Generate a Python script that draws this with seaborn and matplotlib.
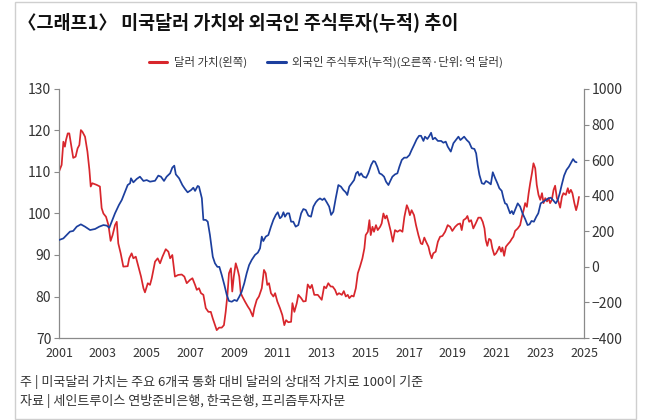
import matplotlib
matplotlib.use("Agg")
import matplotlib.pyplot as plt
from matplotlib.patches import Rectangle
from matplotlib.lines import Line2D
import seaborn as sns
import pandas as pd

# ---------------- data ----------------
dollar_years = [2001.0, 2001.12, 2001.2, 2001.27, 2001.32, 2001.4, 2001.47, 2001.58, 2001.65, 2001.76, 2001.85, 2001.93,
    2002.0, 2002.07, 2002.19, 2002.3, 2002.39, 2002.45, 2002.52, 2002.72, 2002.87, 2002.95, 2003.03, 2003.15, 2003.26,
    2003.36, 2003.45, 2003.56, 2003.64, 2003.71, 2003.82, 2003.94, 2004.14, 2004.21, 2004.32, 2004.4, 2004.51, 2004.63,
    2004.75, 2004.86, 2004.93, 2005.06, 2005.16, 2005.24, 2005.39, 2005.51, 2005.62, 2005.73, 2005.88, 2006.0, 2006.08,
    2006.18, 2006.3, 2006.45, 2006.61, 2006.73, 2006.84, 2006.99, 2007.1, 2007.22, 2007.3, 2007.4, 2007.49, 2007.6,
    2007.71, 2007.83, 2007.94, 2008.03, 2008.13, 2008.21, 2008.32, 2008.44, 2008.54, 2008.62, 2008.7, 2008.77, 2008.86,
    2008.92, 2008.99, 2009.08, 2009.17, 2009.24, 2009.31, 2009.38, 2009.5, 2009.63, 2009.73, 2009.86, 2009.93, 2010.04,
    2010.14, 2010.27, 2010.37, 2010.45, 2010.52, 2010.6, 2010.69, 2010.8, 2010.88, 2010.98, 2011.1, 2011.21, 2011.3,
    2011.38, 2011.48, 2011.61, 2011.67, 2011.76, 2011.87, 2011.94, 2012.07, 2012.17, 2012.28, 2012.37, 2012.48, 2012.56,
    2012.67, 2012.83, 2013.01, 2013.12, 2013.21, 2013.31, 2013.42, 2013.51, 2013.62, 2013.71, 2013.8, 2013.93, 2014.02,
    2014.11, 2014.2, 2014.27, 2014.38, 2014.47, 2014.57, 2014.66, 2014.76, 2014.87, 2014.96, 2015.02, 2015.12, 2015.19,
    2015.25, 2015.33, 2015.4, 2015.49, 2015.57, 2015.68, 2015.75, 2015.83, 2015.91, 2015.98, 2016.06, 2016.17, 2016.26,
    2016.36, 2016.47, 2016.59, 2016.7, 2016.79, 2016.9, 2016.97, 2017.04, 2017.12, 2017.23, 2017.32, 2017.43, 2017.54,
    2017.61, 2017.7, 2017.78, 2017.89, 2017.96, 2018.04, 2018.11, 2018.22, 2018.32, 2018.42, 2018.53, 2018.65, 2018.77,
    2018.88, 2018.98, 2019.11, 2019.23, 2019.34, 2019.41, 2019.49, 2019.6, 2019.67, 2019.75, 2019.84, 2019.94, 2020.05,
    2020.17, 2020.28, 2020.37, 2020.45, 2020.51, 2020.58, 2020.66, 2020.74, 2020.81, 2020.9, 2020.98, 2021.06, 2021.13,
    2021.21, 2021.27, 2021.35, 2021.43, 2021.52, 2021.62, 2021.7, 2021.77, 2021.85, 2021.97, 2022.08, 2022.16, 2022.24,
    2022.31, 2022.39, 2022.47, 2022.54, 2022.62, 2022.69, 2022.77, 2022.84, 2022.92, 2023.0, 2023.08, 2023.15, 2023.23,
    2023.31, 2023.38, 2023.45, 2023.53, 2023.61, 2023.68, 2023.76, 2023.83, 2023.91, 2023.99, 2024.06, 2024.17, 2024.26,
    2024.32, 2024.4, 2024.47, 2024.56, 2024.64, 2024.71, 2024.77]
dollar_values = [110.1, 111.7, 117.3, 116.1, 117.7, 119.3, 119.3, 115.7, 113.4, 113.7, 115.7, 116.5,
    120.1, 119.7, 118.5, 114.9, 110.5, 106.5, 107.3, 106.9, 106.5, 101.3, 100.0, 99.2, 97.2,
    93.4, 94.8, 97.2, 98.0, 92.8, 90.4, 87.2, 87.3, 89.2, 90.4, 89.2, 89.6, 87.2,
    84.8, 82.0, 81.0, 83.2, 82.8, 84.4, 88.4, 89.2, 88.0, 89.6, 91.4, 90.8, 89.2,
    90.0, 84.8, 85.2, 85.3, 84.8, 83.2, 84.0, 84.4, 82.8, 81.6, 82.0, 80.8, 80.4,
    77.2, 76.3, 76.3, 74.7, 73.1, 71.9, 72.5, 72.5, 73.1, 76.3, 80.4, 85.6, 86.8,
    81.2, 84.8, 88.0, 86.4, 84.8, 80.8, 80.0, 78.8, 77.6, 76.8, 75.2, 77.2, 79.2,
    80.0, 82.0, 86.4, 85.6, 82.8, 83.2, 80.8, 80.0, 80.8, 78.8, 77.2, 75.5, 73.1,
    74.3, 73.8, 73.9, 78.4, 76.3, 78.4, 80.4, 79.6, 78.8, 78.9, 82.9, 82.0, 82.8,
    80.4, 80.4, 79.2, 82.4, 82.0, 83.2, 82.4, 82.4, 81.6, 80.4, 80.8, 80.4, 81.3,
    80.0, 80.4, 79.6, 80.2, 80.0, 82.0, 85.6, 87.2, 89.2, 91.6, 94.8, 95.6, 98.4,
    94.8, 96.8, 95.6, 97.2, 96.0, 96.8, 97.6, 100.0, 98.8, 99.5, 98.0, 95.6, 93.2,
    96.0, 95.6, 96.0, 95.6, 99.2, 102.0, 101.1, 99.6, 100.8, 99.6, 97.2, 94.8, 92.8,
    92.6, 94.2, 93.2, 92.0, 90.4, 89.2, 90.4, 90.8, 93.2, 94.4, 94.6, 95.6, 97.2,
    96.8, 95.8, 96.8, 97.4, 97.6, 96.0, 98.4, 98.8, 99.4, 98.0, 98.4, 96.4, 97.6,
    99.0, 99.0, 98.0, 96.4, 93.6, 92.2, 93.9, 93.6, 91.6, 90.0, 90.4, 91.2, 92.0,
    90.8, 91.8, 89.8, 92.0, 92.6, 93.2, 93.9, 94.4, 95.8, 96.4, 97.2, 99.2, 100.8,
    102.5, 101.6, 104.9, 107.3, 109.7, 112.1, 110.9, 106.9, 104.5, 103.3, 104.9, 102.5, 103.7,
    102.9, 103.7, 102.5, 103.3, 105.7, 106.7, 103.7, 102.9, 101.4, 104.0, 104.9, 104.5, 106.1,
    104.9, 105.7, 104.9, 102.5, 100.8, 102.2, 104.0]

stock_years = [2001.0, 2001.2, 2001.35, 2001.5, 2001.65, 2001.81, 2002.0, 2002.19, 2002.42, 2002.65, 2002.84, 2003.03,
    2003.18, 2003.3, 2003.41, 2003.56, 2003.74, 2003.87, 2004.02, 2004.14, 2004.25, 2004.29, 2004.4, 2004.55, 2004.7,
    2004.86, 2005.01, 2005.16, 2005.39, 2005.54, 2005.66, 2005.8, 2005.92, 2006.08, 2006.18, 2006.27, 2006.34, 2006.49,
    2006.64, 2006.76, 2006.88, 2007.04, 2007.14, 2007.22, 2007.34, 2007.4, 2007.53, 2007.6, 2007.71, 2007.8, 2007.9,
    2008.03, 2008.13, 2008.24, 2008.33, 2008.44, 2008.56, 2008.67, 2008.77, 2008.9, 2009.02, 2009.13, 2009.24, 2009.35,
    2009.47, 2009.58, 2009.69, 2009.81, 2009.96, 2010.09, 2010.19, 2010.27, 2010.34, 2010.45, 2010.57, 2010.69, 2010.8,
    2010.91, 2011.0, 2011.1, 2011.18, 2011.26, 2011.33, 2011.43, 2011.52, 2011.61, 2011.71, 2011.82, 2011.94, 2012.07,
    2012.17, 2012.28, 2012.4, 2012.52, 2012.63, 2012.74, 2012.83, 2012.93, 2013.04, 2013.13, 2013.24, 2013.35, 2013.44,
    2013.54, 2013.65, 2013.77, 2013.89, 2014.0, 2014.11, 2014.18, 2014.27, 2014.38, 2014.49, 2014.58, 2014.66, 2014.73,
    2014.81, 2014.91, 2015.04, 2015.14, 2015.27, 2015.37, 2015.45, 2015.55, 2015.65, 2015.75, 2015.86, 2015.95, 2016.06,
    2016.13, 2016.24, 2016.36, 2016.47, 2016.56, 2016.67, 2016.78, 2016.9, 2017.02, 2017.12, 2017.23, 2017.35, 2017.46,
    2017.55, 2017.66, 2017.73, 2017.84, 2017.93, 2018.01, 2018.09, 2018.19, 2018.32, 2018.47, 2018.57, 2018.68, 2018.77,
    2018.91, 2019.03, 2019.14, 2019.26, 2019.35, 2019.44, 2019.52, 2019.64, 2019.75, 2019.87, 2019.99, 2020.07, 2020.14,
    2020.22, 2020.33, 2020.43, 2020.52, 2020.63, 2020.74, 2020.83, 2020.94, 2021.04, 2021.13, 2021.24, 2021.32, 2021.39,
    2021.47, 2021.54, 2021.62, 2021.7, 2021.77, 2021.85, 2021.97, 2022.08, 2022.19, 2022.31, 2022.42, 2022.51, 2022.6,
    2022.71, 2022.82, 2022.91, 2023.02, 2023.13, 2023.25, 2023.37, 2023.48, 2023.58, 2023.71, 2023.8, 2023.89, 2023.98,
    2024.09, 2024.2, 2024.31, 2024.42, 2024.5, 2024.59, 2024.66]
stock_values = [151, 160, 179, 198, 202, 226, 239, 226, 207, 213, 226, 235,
    232, 220, 254, 301, 348, 376, 423, 460, 470, 498, 475, 494, 507,
    483, 488, 479, 484, 513, 507, 483, 507, 526, 558, 569, 520, 498,
    460, 438, 419, 432, 445, 427, 455, 451, 386, 264, 264, 254, 179,
    57, 20, 0, 0, -46, -102, -158, -192, -196, -186, -192, -168, -140,
    -92, -36, 10, 39, 67, 80, 104, 170, 145, 170, 179, 226, 264,
    292, 307, 273, 282, 307, 282, 301, 301, 254, 254, 226, 235, 301,
    325, 320, 288, 282, 339, 363, 376, 385, 376, 385, 363, 339, 292,
    310, 385, 460, 451, 432, 419, 404, 451, 470, 488, 526, 535, 513,
    526, 507, 501, 526, 573, 595, 591, 563, 526, 520, 507, 479, 460,
    479, 507, 520, 526, 563, 601, 614, 614, 629, 657, 685, 717, 737,
    737, 708, 732, 719, 736, 754, 717, 726, 708, 708, 698, 704, 676,
    648, 695, 713, 732, 713, 723, 732, 713, 700, 667, 663, 638, 573,
    517, 470, 466, 483, 475, 464, 532, 498, 470, 442, 427, 385, 357,
    352, 329, 301, 314, 296, 320, 357, 339, 301, 269, 235, 239, 258,
    254, 282, 301, 357, 366, 376, 385, 389, 376, 357, 376, 413, 460,
    513, 545, 563, 588, 606, 591, 588]

x_ticks = list(range(2001, 2026))
x_tick_labels = [str(y) if (y - 2001) % 2 == 0 else "" for y in x_ticks]
left_ticks = [70, 80, 90, 100, 110, 120, 130]
right_ticks = [-400, -200, 0, 200, 400, 600, 800, 1000]

title_text = "〈그래프1〉 미국달러 가치와 외국인 주식투자(누적) 추이"
legend_labels = ["달러 가치(왼쪽)", "외국인 주식투자(누적)(오른쪽·단위: 억 달러)"]
note_lines = ["주 | 미국달러 가치는 주요 6개국 통화 대비 달러의 상대적 가치로 100이 기준",
              "자료 | 세인트루이스 연방준비은행, 한국은행, 프리즘투자자문"]

# ---------------- style ----------------
sns.set_style("white")
plt.rcParams["font.family"] = ["Noto Sans CJK KR", "DejaVu Sans"]
plt.rcParams["axes.unicode_minus"] = True

RED = "#d8262c"
BLUE = "#1c3f9e"
AXC = "#8a8a8a"
TXT = "#333333"

fig = plt.figure(figsize=(6.5, 4.2), dpi=100)
ax = fig.add_axes([59 / 650, 1 - 338 / 420, (584 - 59) / 650, (338 - 89) / 420])
ax2 = ax.twinx()

df_dollar = pd.DataFrame({"year": dollar_years, "value": dollar_values})
df_stock = pd.DataFrame({"year": stock_years, "value": stock_values})

sns.lineplot(data=df_dollar, x="year", y="value", ax=ax, color=RED, linewidth=1.25, legend=False)
sns.lineplot(data=df_stock, x="year", y="value", ax=ax2, color=BLUE, linewidth=1.25, legend=False)

ax.set_xlim(2001, 2025)
ax.set_ylim(70, 130)
ax2.set_ylim(-400, 1000)
ax.set_xticks(x_ticks)
ax.set_xticklabels(x_tick_labels)
ax.set_yticks(left_ticks)
ax.set_yticklabels([str(v) for v in left_ticks])
ax2.set_yticks(right_ticks)
ax2.set_yticklabels([("\u2212" + str(-v)) if v < 0 else str(v) for v in right_ticks])
for a in (ax, ax2):
    a.set_xlabel("")
    a.set_ylabel("")
    a.spines["top"].set_visible(False)
    for s in ("left", "right", "bottom"):
        a.spines[s].set_color(AXC)
        a.spines[s].set_linewidth(0.9)
    a.tick_params(direction="out", length=3.5, width=0.8, color=AXC, labelcolor=TXT, labelsize=10, pad=2)
ax.spines["right"].set_visible(False)
ax2.spines["left"].set_visible(False)
ax2.spines["bottom"].set_visible(False)
ax.tick_params(axis="x", labelsize=9, pad=3)
ax.patch.set_visible(False)

# title, legend, notes
fig.text(18 / 650, 1 - 22 / 420, title_text, fontsize=13.3, fontweight="bold", color="#111111",
         ha="left", va="center")
handles = [Line2D([], [], color=RED, lw=2.2), Line2D([], [], color=BLUE, lw=2.2)]
fig.legend(handles, legend_labels, loc="center", bbox_to_anchor=(326 / 650, 1 - 62 / 420), ncol=2,
           frameon=False, fontsize=8.2, handlelength=1.6, handletextpad=0.6, columnspacing=1.8,
           labelcolor=TXT)
fig.text(20 / 650, 1 - 382 / 420, note_lines[0], fontsize=9.4, color=TXT, ha="left", va="center")
fig.text(20 / 650, 1 - 401 / 420, note_lines[1], fontsize=9.4, color=TXT, ha="left", va="center")

fig.patches.append(Rectangle((15 / 650, 1 / 420), 621 / 650, 417 / 420, transform=fig.transFigure,
                             fill=False, edgecolor="#cfcfcf", linewidth=1.0))

fig.savefig("out.png", dpi=100)
